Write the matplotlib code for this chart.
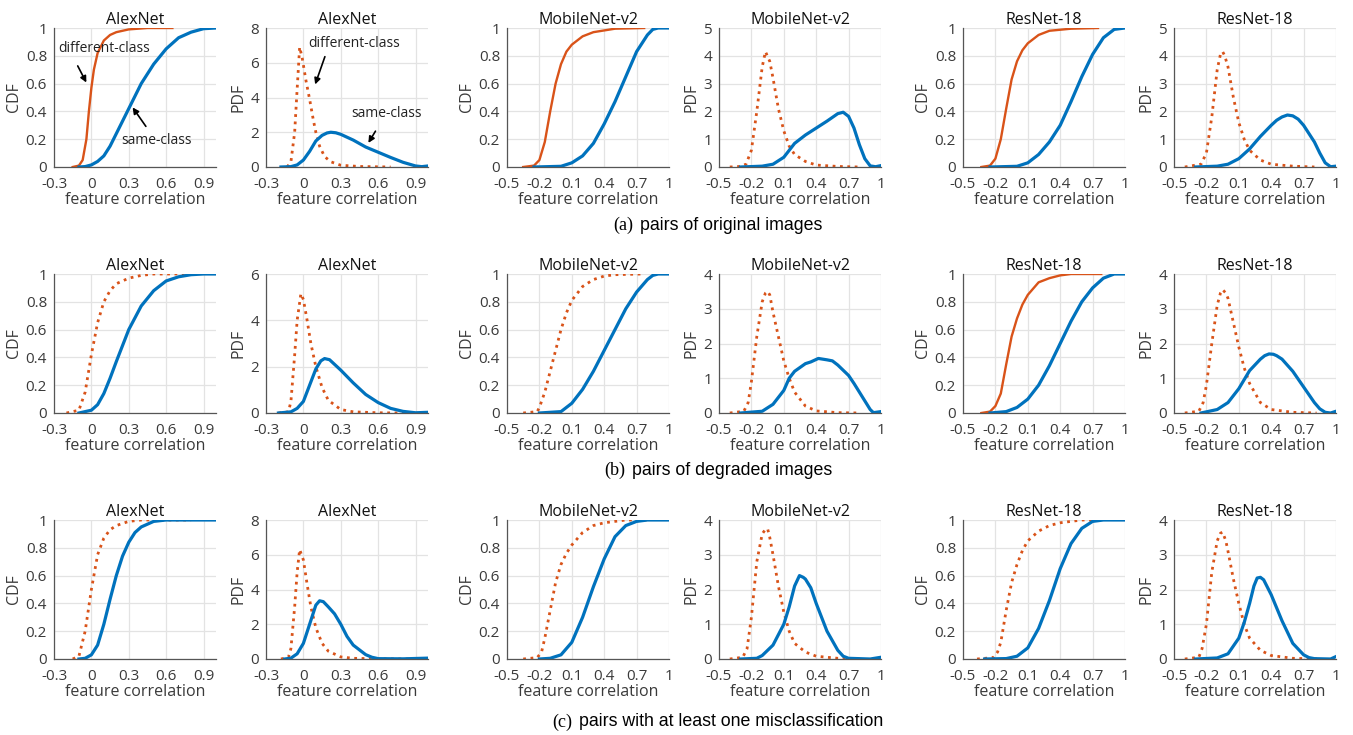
import matplotlib.pyplot as plt

plt.rcParams['font.family'] = ['Open Sans', 'DejaVu Sans']

BLUE = '#0072BD'
ORANGE = '#D95319'

nets = ['AlexNet', 'MobileNet-v2', 'ResNet-18']
captions = [('(a)', 'pairs of original images'),
            ('(b)', 'pairs of degraded images'),
            ('(c)', 'pairs with at least one misclassification')]

alex_xticks = [-0.3, 0, 0.3, 0.6, 0.9]
alex_xlabels = ['-0.3', '0', '0.3', '0.6', '0.9']
other_xticks = [-0.5, -0.2, 0.1, 0.4, 0.7, 1.0]
other_xlabels = ['-0.5', '-0.2', '0.1', '0.4', '0.7', '1']
cdf_yticks = [0, 0.2, 0.4, 0.6, 0.8, 1.0]
cdf_ylabels = ['0', '0.2', '0.4', '0.6', '0.8', '1']

# PDF y-axis top per row and net
pdf_ymax = [[8, 5, 5], [6, 4, 4], [8, 4, 4]]
pdf_ystep = [[2, 1, 1], [2, 1, 1], [2, 1, 1]]

# orange (different-class) style per row: CDF alex, mobile, resnet
diff_cdf_dotted = [[False, False, False], [True, True, False], [True, True, True]]

# ---- (a) original images ----
a_alex_cdf_diff = ([-0.15, -0.1, -0.07, -0.04, -0.02, 0, 0.02, 0.05, 0.1, 0.15, 0.2, 0.3, 0.45, 0.65],
                   [0, 0.01, 0.05, 0.2, 0.4, 0.57, 0.7, 0.82, 0.91, 0.95, 0.97, 0.99, 1.0, 1.0])
a_alex_cdf_same = ([-0.1, -0.05, 0, 0.05, 0.1, 0.15, 0.2, 0.25, 0.3, 0.35, 0.4, 0.5, 0.6, 0.7, 0.8, 0.9, 1.0],
                   [0, 0.003, 0.015, 0.04, 0.08, 0.15, 0.24, 0.33, 0.42, 0.51, 0.6, 0.74, 0.85, 0.93, 0.97, 0.995, 1.0])
a_alex_pdf_diff = ([-0.13, -0.1, -0.07, -0.05, -0.03, -0.01, 0.02, 0.05, 0.08, 0.1, 0.13, 0.17, 0.22, 0.3, 0.45, 0.7],
                   [0, 0.3, 2.0, 4.5, 6.9, 6.3, 5.0, 3.9, 2.7, 2.0, 1.2, 0.6, 0.3, 0.1, 0.03, 0])
a_alex_pdf_same = ([-0.18, -0.1, -0.05, 0, 0.05, 0.1, 0.15, 0.19, 0.22, 0.26, 0.3, 0.4, 0.5, 0.6, 0.7, 0.8, 0.9, 0.95, 1.0],
                   [0, 0.02, 0.12, 0.4, 0.9, 1.5, 1.82, 1.96, 2.0, 1.97, 1.88, 1.55, 1.15, 0.85, 0.55, 0.27, 0.06, 0.02, 0.06])
a_mob_cdf_diff = ([-0.35, -0.25, -0.2, -0.15, -0.1, -0.05, 0, 0.05, 0.1, 0.2, 0.3, 0.5, 0.77],
                  [0, 0.01, 0.05, 0.18, 0.4, 0.6, 0.74, 0.83, 0.88, 0.94, 0.97, 0.995, 1.0])
a_mob_cdf_same = ([-0.25, 0, 0.1, 0.2, 0.3, 0.4, 0.5, 0.6, 0.7, 0.8, 0.85, 0.9, 1.0],
                  [0, 0.005, 0.03, 0.08, 0.17, 0.31, 0.47, 0.65, 0.83, 0.95, 0.99, 1.0, 1.0])
a_mob_pdf_diff = ([-0.4, -0.3, -0.25, -0.2, -0.15, -0.1, -0.07, -0.03, 0, 0.05, 0.1, 0.15, 0.2, 0.3, 0.4, 0.6, 0.8],
                  [0, 0.02, 0.1, 0.6, 2.0, 3.6, 4.15, 3.8, 3.2, 2.1, 1.3, 0.75, 0.45, 0.2, 0.07, 0.02, 0])
a_mob_pdf_same = ([-0.3, -0.1, 0, 0.1, 0.15, 0.2, 0.3, 0.4, 0.5, 0.6, 0.65, 0.7, 0.75, 0.8, 0.85, 0.9, 0.95, 1.0],
                  [0, 0.03, 0.1, 0.35, 0.6, 0.85, 1.15, 1.4, 1.65, 1.92, 1.97, 1.82, 1.4, 0.8, 0.3, 0.04, 0.01, 0.05])
a_res_cdf_diff = ([-0.33, -0.25, -0.2, -0.15, -0.1, -0.05, 0, 0.05, 0.1, 0.2, 0.3, 0.5, 0.75],
                  [0, 0.01, 0.06, 0.2, 0.42, 0.63, 0.76, 0.84, 0.89, 0.95, 0.98, 0.995, 1.0])
a_res_cdf_same = ([-0.25, 0, 0.1, 0.2, 0.3, 0.4, 0.5, 0.6, 0.7, 0.8, 0.9, 1.0],
                  [0, 0.005, 0.03, 0.09, 0.18, 0.3, 0.47, 0.65, 0.81, 0.93, 0.99, 1.0])
a_res_pdf_diff = ([-0.4, -0.25, -0.2, -0.15, -0.1, -0.07, -0.05, -0.03, 0, 0.05, 0.1, 0.15, 0.2, 0.3, 0.4, 0.6, 0.8],
                  [0, 0.1, 0.5, 1.8, 3.5, 4.05, 4.15, 4.0, 3.6, 2.5, 1.6, 1.0, 0.6, 0.25, 0.1, 0.03, 0])
a_res_pdf_same = ([-0.3, -0.1, 0, 0.1, 0.2, 0.3, 0.4, 0.45, 0.5, 0.55, 0.6, 0.65, 0.7, 0.8, 0.85, 0.9, 0.95, 1.0],
                  [0, 0.03, 0.1, 0.3, 0.65, 1.1, 1.5, 1.68, 1.8, 1.87, 1.84, 1.72, 1.5, 0.9, 0.5, 0.15, 0.01, 0.03])

# ---- (b) degraded images ----
b_alex_cdf_diff = ([-0.2, -0.1, -0.05, 0, 0.05, 0.1, 0.15, 0.2, 0.3, 0.4, 0.5, 0.75],
                   [0, 0.02, 0.15, 0.42, 0.65, 0.8, 0.88, 0.93, 0.97, 0.99, 1.0, 1.0])
b_alex_cdf_same = ([-0.1, 0, 0.05, 0.1, 0.15, 0.2, 0.3, 0.4, 0.5, 0.6, 0.7, 0.8, 0.9, 1.0],
                   [0, 0.02, 0.06, 0.14, 0.25, 0.37, 0.6, 0.77, 0.88, 0.95, 0.98, 0.995, 1.0, 1.0])
b_alex_pdf_diff = ([-0.2, -0.12, -0.1, -0.07, -0.05, -0.02, 0, 0.03, 0.06, 0.1, 0.15, 0.2, 0.3, 0.4, 0.6, 0.8],
                   [0, 0.05, 0.5, 2.5, 4.0, 5.15, 4.9, 4.0, 3.0, 2.0, 1.1, 0.55, 0.15, 0.05, 0.01, 0])
b_alex_pdf_same = ([-0.2, -0.1, -0.05, 0, 0.05, 0.1, 0.14, 0.17, 0.21, 0.25, 0.3, 0.4, 0.5, 0.6, 0.7, 0.8, 0.9, 1.0],
                   [0, 0.05, 0.2, 0.5, 1.2, 1.9, 2.25, 2.35, 2.3, 2.1, 1.85, 1.3, 0.8, 0.45, 0.2, 0.07, 0.01, 0.03])
b_mob_cdf_diff = ([-0.35, -0.22, -0.2, -0.15, -0.1, -0.05, 0, 0.05, 0.1, 0.2, 0.3, 0.4, 0.5, 0.75],
                  [0, 0.01, 0.04, 0.15, 0.3, 0.45, 0.6, 0.72, 0.81, 0.91, 0.96, 0.985, 0.995, 1.0])
b_mob_cdf_same = ([-0.2, 0, 0.1, 0.2, 0.3, 0.4, 0.5, 0.6, 0.7, 0.8, 0.85, 0.9, 1.0],
                  [0, 0.01, 0.07, 0.17, 0.3, 0.45, 0.6, 0.75, 0.87, 0.96, 0.99, 1.0, 1.0])
b_mob_pdf_diff = ([-0.4, -0.27, -0.23, -0.2, -0.15, -0.1, -0.07, -0.05, -0.03, 0, 0.05, 0.1, 0.15, 0.2, 0.3, 0.4, 0.6, 0.8],
                  [0, 0.05, 0.3, 0.9, 2.2, 3.2, 3.45, 3.5, 3.4, 2.9, 2.2, 1.5, 1.0, 0.6, 0.2, 0.06, 0.01, 0])
b_mob_pdf_same = ([-0.3, -0.1, 0, 0.1, 0.15, 0.2, 0.3, 0.35, 0.42, 0.5, 0.55, 0.6, 0.7, 0.75, 0.8, 0.85, 0.9, 0.93, 1.0],
                  [0, 0.05, 0.25, 0.65, 1.0, 1.2, 1.42, 1.47, 1.57, 1.53, 1.5, 1.38, 1.08, 0.85, 0.6, 0.35, 0.1, 0.01, 0.04])
b_res_cdf_diff = ([-0.33, -0.25, -0.2, -0.15, -0.1, -0.05, 0, 0.05, 0.1, 0.2, 0.3, 0.4, 0.5, 0.78],
                  [0, 0.01, 0.05, 0.14, 0.35, 0.55, 0.68, 0.78, 0.85, 0.94, 0.97, 0.99, 1.0, 1.0])
b_res_cdf_same = ([-0.25, -0.1, 0, 0.1, 0.2, 0.3, 0.4, 0.5, 0.6, 0.7, 0.8, 0.9, 1.0],
                  [0, 0.01, 0.04, 0.1, 0.2, 0.34, 0.5, 0.66, 0.8, 0.9, 0.97, 1.0, 1.0])
b_res_pdf_diff = ([-0.4, -0.27, -0.23, -0.2, -0.15, -0.1, -0.07, -0.05, -0.02, 0, 0.05, 0.1, 0.15, 0.2, 0.3, 0.4, 0.6, 0.82],
                  [0, 0.05, 0.3, 0.8, 2.0, 3.1, 3.45, 3.55, 3.45, 3.3, 2.6, 1.9, 1.3, 0.85, 0.3, 0.1, 0.02, 0])
b_res_pdf_same = ([-0.25, -0.1, 0, 0.1, 0.2, 0.3, 0.34, 0.38, 0.42, 0.45, 0.5, 0.6, 0.7, 0.8, 0.85, 0.9, 0.95, 1.0],
                  [0, 0.1, 0.3, 0.7, 1.22, 1.55, 1.65, 1.7, 1.69, 1.65, 1.55, 1.2, 0.75, 0.3, 0.12, 0.02, 0, 0.05])

# ---- (c) at least one misclassification ----
c_alex_cdf_diff = ([-0.15, -0.1, -0.05, 0, 0.03, 0.05, 0.1, 0.15, 0.2, 0.3, 0.4, 0.8],
                   [0, 0.02, 0.2, 0.5, 0.65, 0.75, 0.87, 0.93, 0.96, 0.99, 1.0, 1.0])
c_alex_cdf_same = ([-0.1, -0.05, 0, 0.05, 0.1, 0.15, 0.2, 0.25, 0.3, 0.35, 0.4, 0.5, 0.6, 1.0],
                   [0, 0.005, 0.03, 0.1, 0.25, 0.43, 0.6, 0.74, 0.84, 0.91, 0.95, 0.99, 1.0, 1.0])
c_alex_pdf_diff = ([-0.18, -0.12, -0.1, -0.07, -0.05, -0.03, 0, 0.03, 0.06, 0.1, 0.15, 0.2, 0.3, 0.4, 0.6, 0.85],
                   [0, 0.1, 0.6, 3.0, 5.0, 6.3, 5.7, 4.3, 3.0, 1.8, 0.9, 0.45, 0.12, 0.04, 0.01, 0])
c_alex_pdf_same = ([-0.15, -0.1, -0.05, 0, 0.05, 0.1, 0.13, 0.16, 0.2, 0.25, 0.3, 0.35, 0.4, 0.5, 0.55, 0.6, 0.8, 1.0],
                   [0, 0.05, 0.3, 0.9, 2.0, 3.1, 3.35, 3.3, 3.0, 2.6, 2.0, 1.3, 0.8, 0.25, 0.1, 0.02, 0.01, 0.05])
c_mob_cdf_diff = ([-0.35, -0.22, -0.18, -0.15, -0.1, -0.05, 0, 0.05, 0.1, 0.2, 0.3, 0.4, 0.5, 0.6, 0.8],
                  [0, 0.01, 0.05, 0.15, 0.35, 0.55, 0.68, 0.76, 0.82, 0.91, 0.96, 0.98, 0.99, 1.0, 1.0])
c_mob_cdf_same = ([-0.2, -0.1, 0, 0.1, 0.2, 0.3, 0.4, 0.5, 0.6, 0.7, 0.8, 1.0],
                  [0, 0.005, 0.03, 0.12, 0.3, 0.52, 0.72, 0.88, 0.96, 0.99, 1.0, 1.0])
c_mob_pdf_diff = ([-0.4, -0.28, -0.24, -0.2, -0.15, -0.1, -0.07, -0.05, -0.03, 0, 0.05, 0.1, 0.15, 0.2, 0.3, 0.4, 0.6, 0.8],
                  [0, 0.05, 0.3, 1.2, 2.8, 3.6, 3.73, 3.75, 3.5, 3.0, 2.1, 1.35, 0.8, 0.45, 0.2, 0.08, 0.02, 0])
c_mob_pdf_same = ([-0.3, -0.15, -0.1, 0, 0.1, 0.15, 0.2, 0.245, 0.28, 0.3, 0.35, 0.4, 0.5, 0.6, 0.65, 0.7, 0.9, 1.0],
                  [0, 0.02, 0.1, 0.4, 1.0, 1.5, 2.1, 2.4, 2.35, 2.3, 2.05, 1.6, 0.8, 0.25, 0.08, 0.02, 0, 0.05])
c_res_cdf_diff = ([-0.37, -0.22, -0.18, -0.15, -0.1, -0.05, 0, 0.05, 0.1, 0.2, 0.3, 0.4, 0.5, 0.6, 0.8],
                  [0, 0.01, 0.05, 0.12, 0.35, 0.55, 0.68, 0.78, 0.85, 0.92, 0.96, 0.98, 0.99, 1.0, 1.0])
c_res_cdf_same = ([-0.3, -0.1, 0, 0.1, 0.2, 0.3, 0.4, 0.5, 0.6, 0.7, 0.8, 1.0],
                  [0, 0.003, 0.02, 0.08, 0.22, 0.42, 0.65, 0.83, 0.94, 0.99, 1.0, 1.0])
c_res_pdf_diff = ([-0.4, -0.27, -0.24, -0.2, -0.15, -0.1, -0.07, -0.05, -0.02, 0, 0.05, 0.1, 0.15, 0.2, 0.3, 0.4, 0.6, 0.85],
                  [0, 0.05, 0.3, 1.0, 2.5, 3.4, 3.62, 3.65, 3.4, 3.1, 2.3, 1.6, 1.0, 0.6, 0.25, 0.1, 0.02, 0])
c_res_pdf_same = ([-0.3, -0.1, 0, 0.1, 0.15, 0.2, 0.24, 0.27, 0.3, 0.33, 0.4, 0.5, 0.6, 0.7, 0.75, 0.8, 0.95, 1.0],
                  [0, 0.03, 0.15, 0.6, 1.05, 1.6, 2.1, 2.33, 2.35, 2.28, 1.85, 1.1, 0.45, 0.12, 0.04, 0.01, 0, 0.07])

curves = [
    [(a_alex_cdf_diff, a_alex_cdf_same, a_alex_pdf_diff, a_alex_pdf_same),
     (a_mob_cdf_diff, a_mob_cdf_same, a_mob_pdf_diff, a_mob_pdf_same),
     (a_res_cdf_diff, a_res_cdf_same, a_res_pdf_diff, a_res_pdf_same)],
    [(b_alex_cdf_diff, b_alex_cdf_same, b_alex_pdf_diff, b_alex_pdf_same),
     (b_mob_cdf_diff, b_mob_cdf_same, b_mob_pdf_diff, b_mob_pdf_same),
     (b_res_cdf_diff, b_res_cdf_same, b_res_pdf_diff, b_res_pdf_same)],
    [(c_alex_cdf_diff, c_alex_cdf_same, c_alex_pdf_diff, c_alex_pdf_same),
     (c_mob_cdf_diff, c_mob_cdf_same, c_mob_pdf_diff, c_mob_pdf_same),
     (c_res_cdf_diff, c_res_cdf_same, c_res_pdf_diff, c_res_pdf_same)],
]

W, H = 1353, 735
fig = plt.figure(figsize=(W / 100, H / 100), dpi=100)

lefts = [54, 266, 507, 719, 963, 1174]
tops = [28, 274, 520]
aw, ah = 162, 139
caption_y = [225, 470, 722]
TXT = '#3a3a3a'


def style_axes(ax, xt, xl, yt, yl, ylabel, title):
    ax.set_xlim(xt[0], 1.0)
    ax.set_xticks(xt)
    ax.set_xticklabels(xl)
    ax.set_ylim(yt[0], yt[-1])
    ax.set_yticks(yt)
    ax.set_yticklabels(yl)
    ax.grid(True, color='#e3e3e3', linewidth=0.9)
    ax.set_axisbelow(True)
    for s in ['top', 'right']:
        ax.spines[s].set_visible(False)
    for s in ['left', 'bottom']:
        ax.spines[s].set_color('#555555')
        ax.spines[s].set_linewidth(0.9)
    ax.tick_params(length=0, labelsize=11, colors=TXT)
    ax.tick_params(axis='x', pad=7)
    ax.tick_params(axis='y', pad=5)
    ax.set_xlabel('feature correlation', fontsize=11.5, color=TXT, labelpad=0)
    ax.set_ylabel(ylabel, fontsize=11.5, color=TXT, labelpad=3)
    ax.set_title(title, fontsize=11.5, color='#111111', pad=2)


axes_grid = []
for r in range(3):
    row_axes = []
    for n in range(3):
        cdf_d, cdf_s, pdf_d, pdf_s = curves[r][n]
        if n == 0:
            xt, xl = alex_xticks, alex_xlabels
        else:
            xt, xl = other_xticks, other_xlabels
        # CDF panel
        ax = fig.add_axes([lefts[2 * n] / W, 1 - (tops[r] + ah) / H, aw / W, ah / H])
        ls = ':' if diff_cdf_dotted[r][n] else '-'
        lw = 2.0 if diff_cdf_dotted[r][n] else 1.7
        ax.plot(cdf_d[0], cdf_d[1], color=ORANGE, linestyle=ls, linewidth=lw)
        ax.plot(cdf_s[0], cdf_s[1], color=BLUE, linewidth=2.3)
        style_axes(ax, xt, xl, cdf_yticks, cdf_ylabels, 'CDF', nets[n])
        row_axes.append(ax)
        # PDF panel
        ax = fig.add_axes([lefts[2 * n + 1] / W, 1 - (tops[r] + ah) / H, aw / W, ah / H])
        ax.plot(pdf_d[0], pdf_d[1], color=ORANGE, linestyle=':', linewidth=2.0)
        ax.plot(pdf_s[0], pdf_s[1], color=BLUE, linewidth=2.3)
        ymax, step = pdf_ymax[r][n], pdf_ystep[r][n]
        yt = list(range(0, ymax + 1, step))
        style_axes(ax, xt, xl, yt, [str(v) for v in yt], 'PDF', nets[n])
        row_axes.append(ax)
    axes_grid.append(row_axes)

# annotations on the first AlexNet panels
arrow = dict(arrowstyle='-|>', color='black', linewidth=1.2, mutation_scale=9)
ax = axes_grid[0][0]
ax.text(0.10, 0.853, 'different-class', ha='center', va='center', fontsize=10, color='#222222')
ax.annotate('', xy=(-0.03, 0.59), xytext=(-0.12, 0.745), arrowprops=arrow)
ax.text(0.524, 0.19, 'same-class', ha='center', va='center', fontsize=10, color='#222222')
ax.annotate('', xy=(0.318, 0.445), xytext=(0.45, 0.276), arrowprops=arrow)
ax = axes_grid[0][1]
ax.text(0.41, 7.1, 'different-class', ha='center', va='center', fontsize=10, color='#222222')
ax.annotate('', xy=(0.087, 4.6), xytext=(0.18, 6.5), arrowprops=arrow)
ax.text(0.667, 3.1, 'same-class', ha='center', va='center', fontsize=10, color='#222222')
ax.annotate('', xy=(0.51, 1.25), xytext=(0.59, 2.2), arrowprops=arrow)

# captions: serif "(x)" followed by sans text, centred as a whole
fig.canvas.draw()
renderer = fig.canvas.get_renderer()
for r, (tag, text) in enumerate(captions):
    y = 1 - caption_y[r] / H
    t1 = fig.text(0, y, tag, fontsize=13, family='Liberation Serif', va='center', ha='left')
    t2 = fig.text(0, y, text, fontsize=12.8, family='Liberation Sans', va='center', ha='left')
    w1 = t1.get_window_extent(renderer).width
    w2 = t2.get_window_extent(renderer).width
    gap = 7
    total = w1 + gap + w2
    x0 = 718 - total / 2
    t1.set_x(x0 / W)
    t2.set_x((x0 + w1 + gap) / W)

fig.savefig('out.png', dpi=100)
